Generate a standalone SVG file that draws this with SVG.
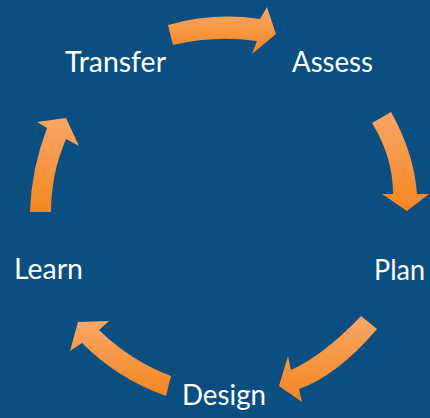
<svg xmlns="http://www.w3.org/2000/svg" width="430" height="418" viewBox="0 0 430 418">
  <defs>
    <linearGradient id="orange" x1="0" y1="0" x2="0" y2="1">
      <stop offset="0" stop-color="#f9a768"/>
      <stop offset="1" stop-color="#f4861f"/>
    </linearGradient>
    <style>
      .label { font-family: Lato, "Open Sans", "Liberation Sans", sans-serif; font-size: 28px; fill: #ffffff; }
      .arrow { fill: url(#orange); stroke: none; }
    </style>
  </defs>

  <rect width="430" height="418" fill="#0b4f80"/>

  <!-- cycle arrows -->
  <g id="connectors">
    <path class="arrow" d="M168,25 Q214,12 260,19 L267,7 L276,34 L252,54 L257,41 Q215,35 173,45 Z"/>
    <path class="arrow" d="M372,123 L391,112 Q414,153 417,194 L429,194 L407,211 L382,194 L393,194 Q393,157 372,123 Z"/>
    <path class="arrow" d="M361,316 L377,329 Q338,375 299,389 L302,402 L279,386 L288,356 L291,370 Q324,355 361,316 Z"/>
    <path class="arrow" d="M171,376 Q131,361 99,330 L109,321 L78,322 L70,351 L82,343 Q118,379 166,396 Z"/>
    <path class="arrow" d="M30,212 Q31,170 47,128 L37,122 L66,118 L79,146 L66,139 Q51,174 51,212 Z"/>
  </g>

  <g id="transfer"><text class="label" x="65" y="72" textLength="101" lengthAdjust="spacingAndGlyphs">Transfer</text></g>
  <g id="assess"><text class="label" x="292" y="72" textLength="81" lengthAdjust="spacingAndGlyphs">Assess</text></g>
  <g id="plan"><text class="label" x="374" y="280" textLength="51" lengthAdjust="spacingAndGlyphs">Plan</text></g>
  <g id="design"><text class="label" x="182" y="405" textLength="84" lengthAdjust="spacingAndGlyphs">Design</text></g>
  <g id="learn"><text class="label" x="14" y="279" textLength="69" lengthAdjust="spacingAndGlyphs">Learn</text></g>
</svg>
